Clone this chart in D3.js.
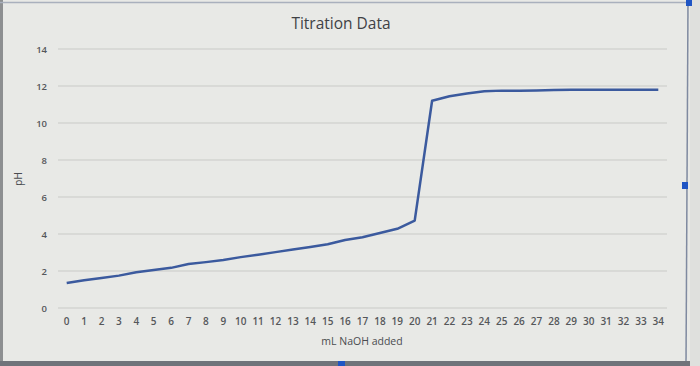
<!DOCTYPE html>
<html>
<head>
<meta charset="utf-8">
<script src="https://cdn.jsdelivr.net/npm/d3@7"></script>
<style>
  html, body { margin: 0; padding: 0; background: #e8e9e6; }
  svg { display: block; }
</style>
</head>
<body>
<svg id="chart" width="700" height="366"></svg>
<script>
const mlNaOH = d3.range(0, 35).map(String);
const pH = [1.35, 1.5, 1.62, 1.75, 1.93, 2.05, 2.17, 2.38, 2.48, 2.6,
            2.75, 2.88, 3.02, 3.16, 3.3, 3.45, 3.68, 3.82, 4.05, 4.28,
            4.72, 11.2, 11.45, 11.6, 11.72, 11.75, 11.75, 11.76, 11.78, 11.8,
            11.8, 11.8, 11.8, 11.8, 11.8];
const yTicks = [0, 2, 4, 6, 8, 10, 12, 14];
const chartTitle = "Titration Data";
const xTitle = "mL NaOH added";
const yTitle = "pH";

const svg = d3.select("#chart");
const W = 700, H = 366;

// background / frame
svg.append("rect").attr("x", 0).attr("y", 0).attr("width", W).attr("height", H).attr("fill", "#e8e9e6");
svg.append("rect").attr("x", 0).attr("y", 0).attr("width", 3).attr("height", H).attr("fill", "#8d8f91");
svg.append("line").attr("x1", 0).attr("x2", 690).attr("y1", 2.5).attr("y2", 2.5).attr("stroke", "#a9b0bd").attr("stroke-width", 1.5);
svg.append("line").attr("x1", 688).attr("x2", 686).attr("y1", 2).attr("y2", 366).attr("stroke", "#7f8aa0").attr("stroke-width", 1.5);
svg.append("rect").attr("x", 0).attr("y", 361).attr("width", W).attr("height", 5).attr("fill", "#6f737a");
svg.append("rect").attr("x", 690).attr("y", 0).attr("width", 10).attr("height", H).attr("fill", "#dfe0dd");
svg.append("rect").attr("x", 686).attr("y", 0).attr("width", 6).attr("height", 6).attr("fill", "#1f55c4");
svg.append("rect").attr("x", 682).attr("y", 182).attr("width", 6).attr("height", 7).attr("fill", "#1f55c4");
svg.append("rect").attr("x", 338).attr("y", 361).attr("width", 7).attr("height", 5).attr("fill", "#1f55c4");

const m = { left: 58, right: 667, top: 49, bottom: 308 };

const x = d3.scaleBand().domain(mlNaOH).range([m.left, m.right]).padding(0);
const y = d3.scaleLinear().domain([0, 14]).range([m.bottom, m.top]);

// gridlines
svg.append("g")
  .selectAll("line").data(yTicks).join("line")
  .attr("x1", m.left).attr("x2", m.right)
  .attr("y1", d => y(d)).attr("y2", d => y(d))
  .attr("stroke", "#c9cac7").attr("stroke-width", 1);

// y axis labels
const yAxis = d3.axisLeft(y).tickValues(yTicks).tickSize(0).tickPadding(11);
const gy = svg.append("g").attr("transform", `translate(${m.left},0)`).call(yAxis);
gy.select(".domain").remove();
gy.selectAll("text").attr("font-family", "Open Sans, sans-serif").attr("font-size", 9.5)
  .attr("font-weight", 600).attr("fill", "#55575a");

// x axis labels
const xAxis = d3.axisBottom(x).tickSize(0).tickPadding(10);
const gx = svg.append("g").attr("transform", `translate(0,${m.bottom})`).call(xAxis);
gx.select(".domain").remove();
gx.selectAll("text").attr("font-family", "Open Sans, sans-serif").attr("font-size", 10)
  .attr("font-weight", 600).attr("fill", "#55575a");

// line
const line = d3.line()
  .x((d, i) => x(mlNaOH[i]) + x.bandwidth() / 2)
  .y(d => y(d));
svg.append("path").datum(pH)
  .attr("d", line)
  .attr("fill", "none")
  .attr("stroke", "#3b5a9e")
  .attr("stroke-width", 2.5)
  .attr("stroke-linejoin", "round");

// titles
svg.append("text").attr("x", 341).attr("y", 29).attr("text-anchor", "middle")
  .attr("font-family", "Open Sans, sans-serif").attr("font-size", 15.5).attr("fill", "#3f4145")
  .text(chartTitle);
svg.append("text").attr("x", 362).attr("y", 345).attr("text-anchor", "middle")
  .attr("font-family", "Open Sans, sans-serif").attr("font-size", 10.5).attr("fill", "#4a4c50")
  .text(xTitle);
svg.append("text").attr("transform", "translate(22,179) rotate(-90)").attr("text-anchor", "middle")
  .attr("font-family", "Open Sans, sans-serif").attr("font-size", 10.5).attr("fill", "#4a4c50")
  .text(yTitle);
</script>
</body>
</html>
